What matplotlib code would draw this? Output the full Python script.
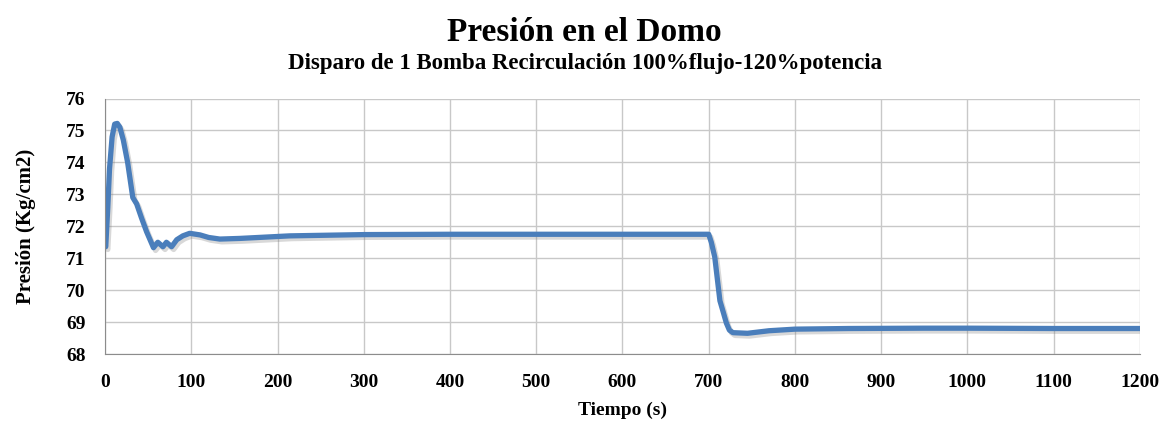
import matplotlib
matplotlib.use("Agg")
import matplotlib.pyplot as plt
import matplotlib.patheffects as pe

# Data
tiempo = [0, 0.6, 3, 5, 8, 11, 14, 17, 21, 26, 32, 36.5, 42, 48, 56, 61, 67, 71, 77,
          83, 90, 98, 110, 120, 133, 156, 214, 300, 400, 500, 600, 700, 703, 707,
          713, 717, 720.5, 724, 728, 745, 770, 800, 862, 950, 1000, 1100, 1200]
presion = [71.4, 71.36, 72.6, 73.8, 74.8, 75.2, 75.22, 75.1, 74.7, 74.0, 72.9, 72.7,
           72.27, 71.83, 71.33, 71.5, 71.36, 71.5, 71.36, 71.58, 71.7, 71.78, 71.73,
           71.65, 71.6, 71.62, 71.7, 71.74, 71.75, 71.75, 71.75, 71.75, 71.5, 71.04,
           69.67, 69.3, 68.97, 68.75, 68.67, 68.65, 68.73, 68.78, 68.8, 68.81, 68.81,
           68.8, 68.8]

x_ticks = list(range(0, 1201, 100))
y_ticks = list(range(68, 77))

title = "Presión en el Domo"
subtitle = "Disparo de 1 Bomba Recirculación 100%flujo-120%potencia"
xlabel = "Tiempo (s)"
ylabel = "Presión (Kg/cm2)"

plt.rcParams['font.family'] = ['Liberation Serif', 'DejaVu Serif']

fig = plt.figure(figsize=(11.69, 4.21), dpi=100)
ax = fig.add_axes([0.090, 0.159, 0.885, 0.607])

ax.plot(tiempo, presion, color='#4a7ebb', lw=3.8, solid_capstyle='round',
        solid_joinstyle='round',
        path_effects=[pe.SimpleLineShadow(offset=(1.5, -2), shadow_color='gray', alpha=0.3),
                      pe.Normal()])

ax.set_xlim(0, 1200)
ax.set_ylim(68, 76)
ax.set_xticks(x_ticks)
ax.set_yticks(y_ticks)
ax.grid(True, color='#c8c8c8', lw=1)
ax.set_axisbelow(True)
for s in ['top', 'right']:
    ax.spines[s].set_visible(False)
for s in ['left', 'bottom']:
    ax.spines[s].set_color('#8c8c8c')
ax.tick_params(length=0, labelsize=14)
ax.tick_params(axis='x', pad=14)
ax.tick_params(axis='y', pad=14)
for lab in ax.get_xticklabels() + ax.get_yticklabels():
    lab.set_fontweight('bold')

ax.set_xlabel(xlabel, fontsize=14, fontweight='bold', labelpad=8)
ax.set_ylabel(ylabel, fontsize=15, fontweight='bold', labelpad=22)

fig.text(0.5, 0.922, title, ha='center', va='center', fontsize=24, fontweight='bold')
fig.text(0.5, 0.848, subtitle, ha='center', va='center', fontsize=16.5, fontweight='bold')

fig.savefig('out.png', dpi=100, facecolor='white')
